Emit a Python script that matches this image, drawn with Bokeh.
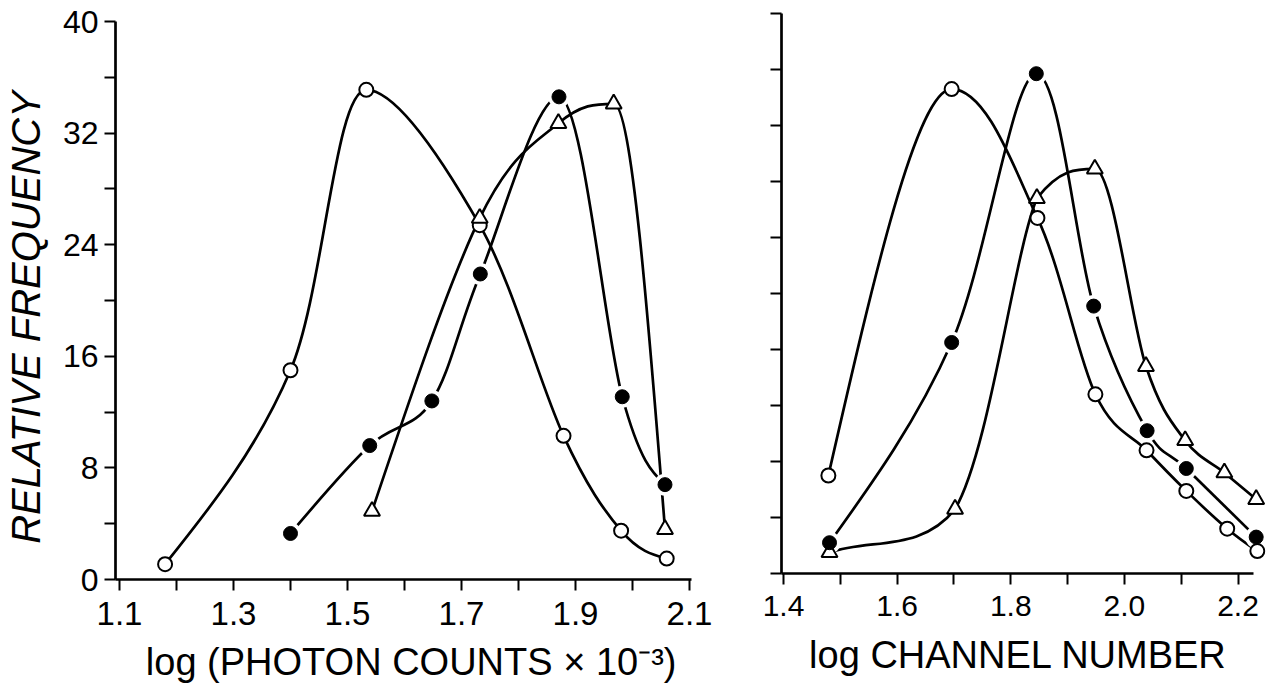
import math
from bokeh.plotting import figure
from bokeh.layouts import row, column
from bokeh.models import Range1d, FixedTicker, Label
from bokeh.embed import file_html
from bokeh.resources import INLINE

# ---------------- data ----------------
# Left panel: log (photon counts x 10^-3)
left_open_x = [1.18, 1.40, 1.533, 1.732, 1.879, 1.980, 2.060]
left_open_y = [1.1, 15.0, 35.1, 25.4, 10.3, 3.5, 1.5]
left_filled_x = [1.40, 1.539, 1.648, 1.733, 1.871, 1.982, 2.057]
left_filled_y = [3.3, 9.6, 12.8, 21.9, 34.6, 13.1, 6.8]
left_tri_x = [1.543, 1.732, 1.870, 1.967, 2.057]
left_tri_y = [4.9, 25.9, 32.7, 34.1, 3.6]

# Right panel: log channel number
right_open_x = [1.479, 1.696, 1.847, 1.949, 2.039, 2.109, 2.181, 2.234]
right_open_y = [7.0, 34.6, 25.4, 12.8, 8.8, 5.9, 3.2, 1.6]
right_filled_x = [1.481, 1.696, 1.845, 1.946, 2.040, 2.109, 2.232]
right_filled_y = [2.2, 16.5, 35.7, 19.1, 10.2, 7.5, 2.6]
right_tri_x = [1.481, 1.702, 1.846, 1.948, 2.038, 2.107, 2.176, 2.232]
right_tri_y = [1.5, 4.6, 26.8, 28.9, 14.8, 9.5, 7.2, 5.3]

# ticks and labels
left_x_major = [1.1, 1.3, 1.5, 1.7, 1.9, 2.1]
left_x_labels = ["1.1", "1.3", "1.5", "1.7", "1.9", "2.1"]
left_x_minor = [1.2, 1.4, 1.6, 1.8, 2.0]
left_y_major = [0, 8, 16, 24, 32, 40]
left_y_labels = ["0", "8", "16", "24", "32", "40"]
left_y_minor = [4, 12, 20, 28, 36]
right_x_major = [1.4, 1.6, 1.8, 2.0, 2.2]
right_x_labels = ["1.4", "1.6", "1.8", "2.0", "2.2"]
right_x_minor = [1.5, 1.7, 1.9, 2.1]
right_y_ticks = [0, 4, 8, 12, 16, 20, 24, 28, 32, 36, 40]

y_title = "RELATIVE FREQUENCY"
left_x_title = "log (PHOTON COUNTS \u00d7 10\u207b\u00b3)"
right_x_title = "log CHANNEL NUMBER"

LW = 2.7
FONT = "Liberation Sans"
H_TOTAL = 689
H_MAIN_L = 640
H_MAIN_R = 632
W_YT = 52


def smooth_bezier(xs, ys):
    """Catmull-Rom style bezier control points through the data points,
    horizontal tangents at local extrema, natural ends, clamped controls."""
    n = len(xs)
    tx = [0.0] * n
    ty = [0.0] * n
    for i in range(1, n - 1):
        tx[i] = (xs[i + 1] - xs[i - 1]) / 2.0
        ty[i] = (ys[i + 1] - ys[i - 1]) / 2.0
        if (ys[i] - ys[i - 1]) * (ys[i + 1] - ys[i]) <= 0:
            ty[i] = 0.0
    for i, j in ((0, 1), (n - 1, n - 2)):
        cx, cy = abs(xs[j] - xs[i]), ys[max(i, j)] - ys[min(i, j)]
        if n > 2:
            nx = (3 * cx - tx[j]) / 2.0
            ny = (3 * cy - ty[j]) / 2.0
            if ny * cy <= 0 or nx <= 0:
                nx, ny = cx, cy
        else:
            nx, ny = cx, cy
        tx[i], ty[i] = nx, ny
    out = dict(x0=[], y0=[], x1=[], y1=[], cx0=[], cy0=[], cx1=[], cy1=[])
    for i in range(n - 1):
        lo, hi = min(ys[i], ys[i + 1]), max(ys[i], ys[i + 1])
        c0y = min(max(ys[i] + ty[i] / 3.0, lo), hi)
        c1y = min(max(ys[i + 1] - ty[i + 1] / 3.0, lo), hi)
        out["x0"].append(xs[i]); out["y0"].append(ys[i])
        out["x1"].append(xs[i + 1]); out["y1"].append(ys[i + 1])
        out["cx0"].append(xs[i] + tx[i] / 3.0); out["cy0"].append(c0y)
        out["cx1"].append(xs[i + 1] - tx[i + 1] / 3.0); out["cy1"].append(c1y)
    return out


def blank(p):
    p.grid.visible = False
    p.outline_line_color = None
    p.background_fill_color = "white"
    p.border_fill_color = "white"


def style_axes(p, xmaj, xmin, xlabels, ymaj, ymin, ylabels, xsize, xstand):
    p.xaxis.ticker = FixedTicker(ticks=xmaj, minor_ticks=xmin)
    p.yaxis.ticker = FixedTicker(ticks=ymaj, minor_ticks=ymin)
    p.xaxis.major_label_overrides = {t: l for t, l in zip(xmaj, xlabels)}
    p.yaxis.major_label_overrides = {t: l for t, l in zip(ymaj, ylabels)}
    for ax in (p.xaxis[0], p.yaxis[0]):
        ax.axis_line_width = LW
        ax.axis_line_color = "black"
        ax.major_tick_line_width = 2
        ax.minor_tick_line_width = 2
        ax.major_tick_out = 11
        ax.major_tick_in = 0
        ax.minor_tick_out = 11
        ax.minor_tick_in = 0
        ax.major_label_text_color = "black"
        ax.major_label_text_font = FONT
    p.xaxis.major_label_text_font_size = xsize
    p.xaxis.major_label_standoff = xstand
    p.yaxis.major_label_text_font_size = "32px"
    p.yaxis.major_label_standoff = 6
    blank(p)


def draw_series(p, ox, oy, fx, fy, tx, ty):
    for xs, ys in ((ox, oy), (fx, fy), (tx, ty)):
        b = smooth_bezier(xs, ys)
        p.bezier(line_color="black", line_width=LW, **b)
    # white halos create the small gaps around the filled dots
    p.scatter(fx, fy, marker="circle", size=22, fill_color="white", line_color=None)
    p.scatter(ox, oy, marker="circle", size=14, fill_color="white",
              line_color="black", line_width=2)
    p.scatter(tx, ty, marker="triangle", size=16, fill_color="white",
              line_color="black", line_width=2)
    p.scatter(fx, fy, marker="circle", size=14, fill_color="black",
              line_color="black", line_width=1)


def text_fig(w, h):
    f = figure(width=w, height=h, output_backend="svg", toolbar_location=None,
               x_range=Range1d(0, w), y_range=Range1d(0, h),
               x_axis_location=None, y_axis_location=None,
               min_border=0, min_border_left=0, min_border_right=0,
               min_border_top=0, min_border_bottom=0)
    blank(f)
    return f


# ---------------- y title strip ----------------
ytf = text_fig(W_YT, H_TOTAL)
ytf.add_layout(Label(x=25, y=H_TOTAL - 317, text=y_title, angle=math.pi / 2,
                     text_align="center", text_baseline="middle",
                     text_font=FONT, text_font_style="italic",
                     text_font_size="40px", text_color="black"))

# ---------------- left panel ----------------
left = figure(width=728 - W_YT, height=H_MAIN_L, output_backend="svg",
              toolbar_location=None,
              x_range=Range1d(1.093, 2.1035), y_range=Range1d(0, 40),
              min_border_left=115 - W_YT, min_border_right=37,
              min_border_top=21, min_border_bottom=H_MAIN_L - 579)
style_axes(left, left_x_major, left_x_minor, left_x_labels,
           left_y_major, left_y_minor, left_y_labels, "33px", 11)
draw_series(left, left_open_x, left_open_y, left_filled_x, left_filled_y,
            left_tri_x, left_tri_y)
ltf = text_fig(728 - W_YT, H_TOTAL - H_MAIN_L)
ltf.add_layout(Label(x=399 - W_YT, y=28, text=left_x_title,
                     text_align="center", text_baseline="alphabetic",
                     text_font=FONT, text_font_size="38px", text_color="black"))

# ---------------- right panel ----------------
right = figure(width=544, height=H_MAIN_R, output_backend="svg", toolbar_location=None,
               x_range=Range1d(1.3965, 2.2484), y_range=Range1d(0, 40),
               min_border_left=53, min_border_right=7,
               min_border_top=13, min_border_bottom=H_MAIN_R - 573)
style_axes(right, right_x_major, right_x_minor, right_x_labels,
           right_y_ticks, [], [""] * len(right_y_ticks), "30px", 11)
right.xaxis.bounds = (1.3965, 2.228)
draw_series(right, right_open_x, right_open_y, right_filled_x, right_filled_y,
            right_tri_x, right_tri_y)
rtf = text_fig(544, H_TOTAL - H_MAIN_R)
rtf.add_layout(Label(x=994 - 728, y=35, text=right_x_title,
                     text_align="center", text_baseline="alphabetic",
                     text_font=FONT, text_font_size="38px", text_color="black"))

layout = row(ytf, column(left, ltf), column(right, rtf))
open("out.html", "w").write(file_html(layout, INLINE))
